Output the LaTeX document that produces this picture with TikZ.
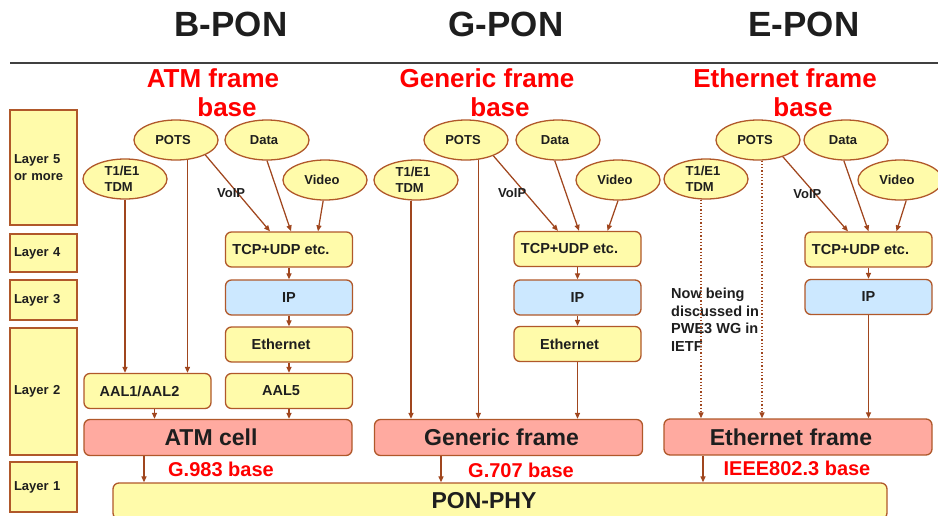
\documentclass[tikz,border=0pt]{standalone}
\usepackage{fontspec}
\setmainfont{Liberation Sans}
\usepackage{tikz}
\usetikzlibrary{arrows.meta, shapes.geometric}
\definecolor{boxYellow}{HTML}{FFFBAA}
\definecolor{boxPink}{HTML}{FFAAA0}
\definecolor{boxBlue}{HTML}{CCE8FF}
\definecolor{edgeBrown}{HTML}{B0582A}
\definecolor{arrowBrown}{HTML}{A0461E}
\definecolor{inkGray}{HTML}{1E1E1E}
\definecolor{headRed}{HTML}{FF0000}

\tikzset{
    padright/.style={execute at end node={\hspace*{#1}}},
    ponhead/.style={anchor=base, inner sep=0pt, text=inkGray, font=\fontsize{35}{40}\selectfont\bfseries},
    basehead/.style={anchor=base, inner sep=0pt, text=headRed, font=\fontsize{26}{30}\selectfont\bfseries},
    baselabel/.style={anchor=base, inner sep=0pt, text=headRed, font=\fontsize{20}{24}\selectfont\bfseries},
    layerbox/.style={draw=edgeBrown, line width=1.3pt, fill=boxYellow, minimum width=67pt,
        inner sep=0pt, text width=59pt, align=left, text=inkGray, font=\fontsize{13}{17}\selectfont\bfseries},
    svc/.style={ellipse, draw=edgeBrown, line width=1.3pt, fill=boxYellow, minimum width=84pt,
        minimum height=40pt, inner sep=0pt, align=left, text=inkGray, padright=6pt,
        font=\fontsize{13}{16}\selectfont\bfseries},
    boxbase/.style={rounded corners=6pt, draw=edgeBrown, line width=1.3pt, minimum width=127pt,
        minimum height=35pt, inner sep=0pt, text=inkGray, font=\fontsize{14.5}{17}\selectfont\bfseries},
    stackbox/.style={boxbase, fill=boxYellow, padright=16pt},
    ipbox/.style={boxbase, fill=boxBlue},
    framebox/.style={boxbase, fill=boxPink, minimum width=268pt, minimum height=36pt, padright=14pt,
        font=\fontsize{23}{27}\selectfont\bfseries},
    phybox/.style={framebox, fill=boxYellow, minimum width=774pt, minimum height=36pt, padright=18pt},
    voip/.style={inner sep=0pt, text=inkGray, font=\fontsize{13}{16}\selectfont\bfseries},
    note/.style={anchor=north west, inner sep=0pt, align=left, text=inkGray,
        font=\fontsize{14.5}{17.5}\selectfont\bfseries},
    flow/.style={draw=arrowBrown, line width=1.25pt, -{Triangle[length=6pt,width=5pt]}},
    tentative/.style={flow, dotted}
}

\begin{document}
\begin{tikzpicture}[x=1pt, y=-1pt]
    \useasboundingbox (0,0) rectangle (938,515);

    \node[ponhead] (bponhead) at (231,36) {B-PON};
    \node[ponhead] (gponhead) at (506,36) {G-PON};
    \node[ponhead] (eponhead) at (804,36) {E-PON};
    \draw[line width=1.5pt, black!75] (10,63) -- (938,63);

    \node[basehead] (bhead1) at (213,87) {ATM frame};
    \node[basehead] (bhead2) at (227,116) {base};
    \node[basehead] (ghead1) at (487,87) {Generic frame};
    \node[basehead] (ghead2) at (500,116) {base};
    \node[basehead] (ehead1) at (785,87) {Ethernet frame};
    \node[basehead] (ehead2) at (803,116) {base};

    \node[layerbox, minimum height=115pt] (l5) at (43.5,167.5) {Layer 5\\or more};
    \node[layerbox, minimum height=38pt] (l4) at (43.5,253) {Layer 4};
    \node[layerbox, minimum height=40pt] (l3) at (43.5,300) {Layer 3};
    \node[layerbox, minimum height=127pt] (l2) at (43.5,391.5) {Layer 2};
    \node[layerbox, minimum height=50pt] (l1) at (43.5,487) {Layer 1};

    % B-PON
    \node[svc] (potsB) at (176,140) {POTS};
    \node[svc] (dataB) at (267,140) {Data};
    \node[svc] (t1B) at (125,179) {T1/E1\\TDM};
    \node[svc] (videoB) at (325,180) {Video};
    \node[stackbox] (tcpB) at (289,249.5) {TCP+UDP etc.};
    \node[ipbox] (ipB) at (289,297.5) {IP};
    \node[stackbox] (ethB) at (289,344.5) {Ethernet};
    \node[stackbox] (aal5B) at (289,391) {AAL5};
    \node[stackbox] (aalB) at (147.5,391) {AAL1/AAL2};
    \node[framebox] (atmB) at (218,437.5) {ATM cell};

    % G-PON
    \node[svc] (potsG) at (466,140) {POTS};
    \node[svc] (dataG) at (558,140) {Data};
    \node[svc] (t1G) at (416,180) {T1/E1\\TDM};
    \node[svc] (videoG) at (618,180) {Video};
    \node[stackbox] (tcpG) at (577.5,249) {TCP+UDP etc.};
    \node[ipbox] (ipG) at (577.5,297.5) {IP};
    \node[stackbox] (ethG) at (577.5,344) {Ethernet};
    \node[framebox] (gfrG) at (508.5,437.5) {Generic frame};

    % E-PON
    \node[svc] (potsE) at (758,140) {POTS};
    \node[svc] (dataE) at (846,140) {Data};
    \node[svc] (t1E) at (706,179) {T1/E1\\TDM};
    \node[svc] (videoE) at (900,180) {Video};
    \node[stackbox] (tcpE) at (868.5,249.5) {TCP+UDP etc.};
    \node[ipbox] (ipE) at (868.5,297) {IP};
    \node[framebox] (efrE) at (798,437) {Ethernet frame};
    \node[note] (pwe3) at (671,288) {Now being\\discussed in\\PWE3 WG in\\IETF};

    \node[phybox] (pphy) at (500,501) {PON-PHY};
    \node[baselabel] (g983) at (221,476) {G.983 base};
    \node[baselabel] (g707) at (521,477) {G.707 base};
    \node[baselabel] (ieee) at (797,475) {IEEE802.3 base};

    \draw[flow] (t1B.south) -- (t1B.south |- aalB.north);
    \draw[flow] (potsB.-60) -- (potsB.-60 |- aalB.north);
    \draw[flow] (potsB.-27) -- ([xshift=-19pt]tcpB.north)
        node[voip, pos=0.5, xshift=-6.5pt] {VoIP};
    \draw[flow] (dataB.south) -- ([xshift=2pt]tcpB.north);
    \draw[flow] (videoB.-95) -- ([xshift=29pt]tcpB.north);
    \draw[flow] (tcpB) -- (ipB);
    \draw[flow] (ipB) -- (ethB);
    \draw[flow] (ethB) -- (aal5B);
    \draw[flow] (aal5B.south) -- (aal5B.south |- atmB.north);
    \draw[flow] ([xshift=7pt]aalB.south) -- ([xshift=7pt]aalB.south |- atmB.north);
    \draw[flow] ([xshift=-74pt]atmB.south) -- ([xshift=-74pt]atmB.south |- pphy.north);

    \draw[flow] ([xshift=-5pt]t1G.south) -- ([xshift=-5pt]t1G.south |- gfrG.north);
    \draw[flow] (potsG.-58) -- (potsG.-58 |- gfrG.north);
    \draw[flow] (potsG.-30) -- ([xshift=-19.5pt]tcpG.north)
        node[voip, pos=0.5, xshift=-13.5pt] {VoIP};
    \draw[flow] (dataG.-99) -- ([xshift=1.5pt]tcpG.north);
    \draw[flow] (videoG.south) -- ([xshift=30pt]tcpG.north);
    \draw[flow] (tcpG) -- (ipG);
    \draw[flow] (ipG) -- (ethG);
    \draw[flow] (ethG.south) -- (ethG.south |- gfrG.north);
    \draw[flow] ([xshift=-67.5pt]gfrG.south) -- ([xshift=-67.5pt]gfrG.south |- pphy.north);

    \draw[tentative] ([xshift=-5pt]t1E.south) -- ([xshift=-5pt]t1E.south |- efrE.north);
    \draw[tentative] (potsE.-79) -- (potsE.-79 |- efrE.north);
    \draw[flow] (potsE.-34) -- ([xshift=-20.5pt]tcpE.north)
        node[voip, pos=0.5, xshift=-8pt] {VoIP};
    \draw[flow] (dataE.-96) -- (tcpE.north);
    \draw[flow] (videoE.-73) -- ([xshift=28pt]tcpE.north);
    \draw[flow] (tcpE) -- (ipE);
    \draw[flow] (ipE.south) -- (ipE.south |- efrE.north);
    \draw[flow] ([xshift=-95pt]efrE.south) -- ([xshift=-95pt]efrE.south |- pphy.north);
\end{tikzpicture}
\end{document}
